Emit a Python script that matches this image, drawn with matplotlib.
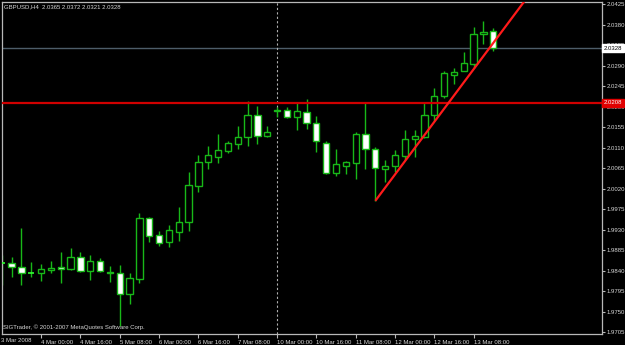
import matplotlib
matplotlib.use("Agg")
import matplotlib.pyplot as plt
from matplotlib.patches import Rectangle
from matplotlib import font_manager

# ---------------- data ----------------
opens = [1.9856, 1.9857, 1.9848, 1.9836, 1.9835, 1.9842, 1.9847, 1.9843, 1.9869, 1.9839,
         1.9861, 1.9837, 1.9835, 1.9788, 1.9821, 1.9955, 1.9917, 1.9902, 1.9925, 1.9947,
         2.0026, 2.0079, 2.0090, 2.0103, 2.0118, 2.0132, 2.0181, 2.0135, 2.0192, 2.0192,
         2.0176, 2.0188, 2.0163, 2.0121, 2.0055, 2.0069, 2.0075, 2.0140, 2.0107, 2.0062,
         2.0069, 2.0092, 2.0128, 2.0132, 2.0181, 2.0222, 2.0270, 2.0277, 2.0293, 2.0359,
         2.0365]
highs = [1.9874, 1.9870, 1.9933, 1.9858, 1.9855, 1.9861, 1.9881, 1.9889, 1.9881, 1.9874,
         1.9867, 1.9850, 1.9852, 1.9835, 1.9966, 1.9958, 1.9927, 1.9940, 1.9980, 2.0057,
         2.0094, 2.0113, 2.0139, 2.0125, 2.0157, 2.0213, 2.0201, 2.0157, 2.0198, 2.0198,
         2.0207, 2.0217, 2.0179, 2.0124, 2.0106, 2.0080, 2.0143, 2.0208, 2.0111, 2.0083,
         2.0105, 2.0149, 2.0149, 2.0211, 2.0240, 2.0279, 2.0284, 2.0320, 2.0374, 2.0388,
         2.0372]
lows = [1.9808, 1.9825, 1.9809, 1.9826, 1.9817, 1.9835, 1.9812, 1.9841, 1.9836, 1.9819,
        1.9837, 1.9815, 1.9719, 1.9766, 1.9812, 1.9903, 1.9893, 1.9892, 1.9905, 1.9927,
        2.0013, 2.0063, 2.0077, 2.0097, 2.0107, 2.0114, 2.0117, 2.0132, 2.0178, 2.0174,
        2.0149, 2.0150, 2.0100, 2.0052, 2.0048, 2.0051, 2.0042, 2.0062, 1.9993, 2.0035,
        2.0057, 2.0083, 2.0090, 2.0131, 2.0168, 2.0218, 2.0249, 2.0277, 2.0285, 2.0337,
        2.0321]
closes = [1.9857, 1.9848, 1.9834, 1.9835, 1.9844, 1.9846, 1.9843, 1.9870, 1.9839, 1.9862,
          1.9840, 1.9834, 1.9789, 1.9823, 1.9955, 1.9916, 1.9900, 1.9928, 1.9947, 2.0028,
          2.0078, 2.0094, 2.0105, 2.0119, 2.0132, 2.0181, 2.0136, 2.0143, 2.0190, 2.0177,
          2.0190, 2.0163, 2.0124, 2.0053, 2.0073, 2.0078, 2.0140, 2.0106, 2.0064, 2.0069,
          2.0094, 2.0128, 2.0135, 2.0181, 2.0223, 2.0273, 2.0276, 2.0296, 2.0359, 2.0364,
          2.0328]

time_tick_bars = [4, 8, 12, 16, 20, 24, 28, 32, 36, 40, 44, 48]
time_tick_labels = ["4 Mar 00:00", "4 Mar 16:00", "5 Mar 08:00", "6 Mar 00:00",
                    "6 Mar 16:00", "7 Mar 08:00", "10 Mar 00:00", "10 Mar 16:00",
                    "11 Mar 08:00", "12 Mar 00:00", "12 Mar 16:00", "13 Mar 08:00"]
first_date_label = "3 Mar 2008"
price_ticks = [2.0425, 2.0380, 2.0335, 2.0290, 2.0245, 2.0200, 2.0155, 2.0110, 2.0065,
               2.0020, 1.9975, 1.9930, 1.9885, 1.9840, 1.9795, 1.9750, 1.9705]

symbol_title = "GBPUSD,H4  2.0365 2.0372 2.0321 2.0328"
copyright_text = "SIGTrader, \u00a9 2001-2007 MetaQuotes Software Corp."
resistance_level = 2.0208
bid_level = 2.0328
trend_start = (38, 1.9993)
trend_end = (53.2, 2.0432)
separator_bar = 28

# ---------------- style ----------------
names = {f.name for f in font_manager.fontManager.ttflist}
if "Liberation Sans Narrow" in names:
    FONT, FS = "Liberation Sans Narrow", 5.0
else:
    FONT, FS = "Liberation Sans", 4.3
plt.rcParams["font.family"] = [FONT, "DejaVu Sans"]

W, H = 625, 345
fig = plt.figure(figsize=(W / 100, H / 100), dpi=100)
fig.patch.set_facecolor("black")
L, R, T, B = 2, 602, 2, 334
ax = fig.add_axes([L / W, 1 - B / H, (R - L) / W, (B - T) / H])
ax.set_facecolor("black")

ax.set_xlim(0.02, 61.06)
ax.set_ylim(1.97007, 2.04294)

GREEN = "#18b818"
body_w = 0.64
for i, (o, h, l, c) in enumerate(zip(opens, highs, lows, closes)):
    ax.vlines(i, l, h, color=GREEN, linewidth=1.0, zorder=2)
    bottom, top = min(o, c), max(o, c)
    if top - bottom < 0.00012:
        ax.hlines((o + c) / 2, i - body_w / 2, i + body_w / 2, color="#30ff30",
                  linewidth=1.2, zorder=3)
    else:
        face = "white" if c < o else "black"
        ax.add_patch(Rectangle((i - body_w / 2, bottom), body_w, top - bottom,
                               facecolor=face, edgecolor=GREEN, linewidth=1.0, zorder=3))

# lines
ax.axhline(bid_level, color="#4d5d69", linewidth=1.0, zorder=1)
ax.axhline(resistance_level, color="#d00000", linewidth=1.6, zorder=4)
ax.axvline(separator_bar, color="#b0b0b0", linewidth=0.8, linestyle=(0, (2, 2)), zorder=1)
slope = (trend_end[1] - trend_start[1]) / (trend_end[0] - trend_start[0])
x2 = 58
ax.plot([trend_start[0], x2], [trend_start[1], trend_start[1] + slope * (x2 - trend_start[0])],
        color="#ff1a1a", linewidth=1.6, zorder=5, solid_capstyle="butt")

# axes styling
for s in ax.spines.values():
    s.set_color("#b8b8b8")
    s.set_linewidth(0.9)
ax.yaxis.tick_right()
ax.set_yticks(price_ticks)
ax.set_yticklabels([f"{v:.4f}" for v in price_ticks])
ax.tick_params(axis="y", direction="out", length=2.5, width=0.8, color="#b8b8b8",
               labelcolor="#d8d8d8", labelsize=FS, pad=1.0)
ax.set_xticks(time_tick_bars)
ax.set_xticklabels(time_tick_labels, ha="left")
ax.tick_params(axis="x", direction="out", length=3, width=0.8, color="#b8b8b8",
               labelcolor="#d8d8d8", labelsize=FS, pad=1.0)
for lbl in ax.get_xticklabels():
    lbl.set_horizontalalignment("left")

# price boxes on the right scale
yt = ax.get_yaxis_transform()
ax.text(1.003, bid_level, f"{bid_level:.4f}", transform=yt, fontsize=FS, color="black",
        va="center", ha="left", clip_on=False, zorder=20,
        bbox=dict(boxstyle="square,pad=0.25", facecolor="white", edgecolor="white"))
ax.text(1.003, resistance_level, f"{resistance_level:.4f}", transform=yt, fontsize=FS,
        color="white", va="center", ha="left", clip_on=False, zorder=20,
        bbox=dict(boxstyle="square,pad=0.25", facecolor="#e00000", edgecolor="#e00000"))

# texts
fig.text(4 / W, 1 - 7 / H, symbol_title, color="#d8d8d8", fontsize=FS, va="center", ha="left")
fig.text(3 / W, 1 - 327 / H, copyright_text, color="#d8d8d8", fontsize=FS, va="center", ha="left")
fig.text(1 / W, 1 - 340 / H, first_date_label, color="#d8d8d8", fontsize=FS, va="center", ha="left")

fig.savefig("out.png", dpi=100, facecolor="black")
